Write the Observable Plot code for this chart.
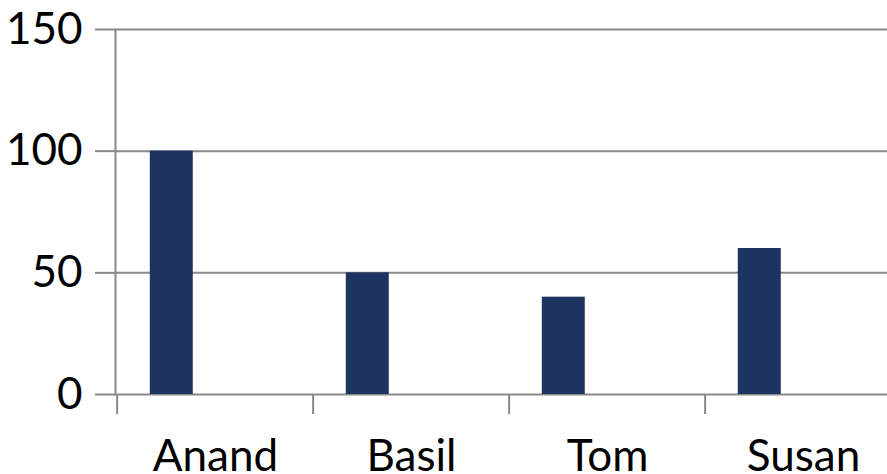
<!DOCTYPE html>
<html>
<head>
<meta charset="utf-8">
<script src="https://cdn.jsdelivr.net/npm/d3@7"></script>
<script src="https://cdn.jsdelivr.net/npm/@observablehq/plot@0.6"></script>
<style>
  html, body { margin: 0; padding: 0; background: #fff; overflow: hidden; }
  #chart svg { display: block; }
</style>
</head>
<body>
<div id="chart"></div>
<script>
// Data
const names = ["Anand", "Basil", "Tom", "Susan"];
const values = [100, 50, 40, 60];
const yTicks = [0, 50, 100, 150];

const data = names.map((name, i) => ({name, value: values[i]}));

// Layout (clustered bar chart: 3 series slots per category, only the first is filled)
const W = 887, H = 474;
const xRange = [115, 902];
const seriesSlots = 3, gapWidth = 1.5;
const bw = (xRange[1] - xRange[0]) / names.length;
const barW = bw / (seriesSlots + gapWidth);
const insetL = barW * gapWidth / 2;
const insetR = bw - insetL - barW;

const gray = "#898989";
const font = "Lato, 'Open Sans', sans-serif";

const chart = Plot.plot({
  width: W,
  height: H,
  marginLeft: 115,
  marginRight: 0,
  marginTop: 29,
  marginBottom: 80,
  style: {fontFamily: font, fontSize: "44px", color: "#000", background: "#fff"},
  x: {domain: names, range: xRange, padding: 0},
  y: {domain: [0, 150]},
  marks: [
    Plot.ruleY(yTicks, {stroke: gray, strokeWidth: 2}),
    Plot.frame({anchor: "left", stroke: gray, strokeWidth: 2}),
    Plot.barY(data, {x: "name", y: "value", fill: "#1d3360", insetLeft: insetL, insetRight: insetR}),
    Plot.axisY(yTicks, {tickSize: 20, tickPadding: 13, stroke: gray, strokeWidth: 2, strokeOpacity: 1, label: null, fontSize: 44}),
    Plot.axisX({tickSize: 20, dx: -bw / 2, tickFormat: () => "", stroke: gray, strokeWidth: 2, strokeOpacity: 1, label: null}),
    Plot.axisX({tickSize: 0, tickPadding: 45, label: null, fontSize: 44})
  ]
});
document.getElementById("chart").append(chart);
</script>
</body>
</html>
